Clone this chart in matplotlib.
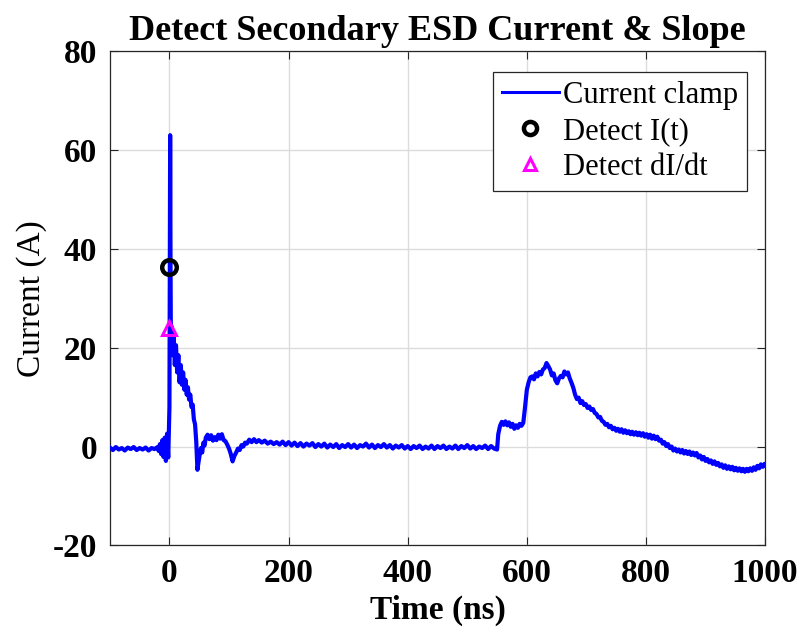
import numpy as np
import matplotlib
matplotlib.use("Agg")
import matplotlib.pyplot as plt

# ---- measured current clamp waveform (time in ns, current in A) ----
# pre-trigger baseline
t_pre = np.arange(-100, -19, 5)
i_pre = [-0.2, -0.7, -0.1, -0.6, -0.3, -0.8, -0.2, -0.5, -0.1, -0.7,
         -0.3, -0.6, -0.2, -0.8, -0.3, -0.5, -0.1]

# primary discharge and ringing
t_main = [-18, -16, -14, -12, -10, -8, -6, -4, -2, -1,
          0, 0.6, 1.2, 1.8, 2.4,
          3, 5, 7, 9, 11, 13, 15, 17, 19, 21, 23, 25, 27, 29, 31, 33, 35, 37, 39, 41, 43, 45,
          47, 49, 51, 53, 55, 57, 59, 61,
          64, 67, 70, 73, 76, 79, 82, 85, 88, 91, 94, 97, 100, 103, 106, 109, 112, 115, 118,
          121, 124, 127, 130,
          134, 138, 142, 146, 150,
          155, 160, 165, 170, 175, 180]
i_main = [-0.9, 0.5, -1.5, 1.3, -2.1, 1.8, -2.9, 2.6, -2.2, 3.0,
          8.0, 38.0, 63.0, 38.0, 21.0,
          24.5, 18.5, 23.0, 16.5, 20.5, 15.0, 18.5, 13.0, 16.5, 12.5, 15.0, 11.5, 13.5, 10.5,
          12.0, 9.5, 10.5, 8.0, 8.5, 5.5, 4.5, 1.0,
          -4.7, -3.0, -1.5, -0.3, -1.2, 0.8, 0.2, 1.8,
          2.4, 1.5, 2.3, 1.2, 1.9, 1.3, 2.4, 1.6, 2.5, 1.3, 1.1, 0.4, -0.4, -1.5, -3.0, -1.9,
          -1.2, -0.4, -0.7, 0.3, 0.0, 0.8, 0.6,
          1.4, 0.9, 1.5, 0.9, 1.3,
          0.8, 1.2, 0.6, 1.0, 0.5, 0.9]

# quiet interval between discharges
t_quiet = np.arange(185, 551, 5)
i_quiet = [0.4, 1.0, 0.3, 0.9, 0.2, 0.8, 0.1, 0.7, 0.0, 0.6,
           0.2, 0.7, -0.1, 0.5, 0.0, 0.6, -0.2, 0.4, -0.1, 0.5,
           -0.3, 0.3, -0.1, 0.5, -0.2, 0.4, -0.3, 0.3, 0.0, 0.6,
           -0.2, 0.4, -0.3, 0.3, -0.1, 0.5, -0.2, 0.3, -0.4, 0.2,
           -0.2, 0.3, -0.4, 0.1, -0.5, 0.1, -0.3, 0.2, -0.5, 0.0,
           -0.4, 0.2, -0.5, 0.1, -0.3, 0.2, -0.5, 0.0, -0.4, 0.2,
           -0.5, 0.1, -0.3, 0.3, -0.4, 0.1, -0.5, 0.0, -0.3, 0.2,
           -0.5, 0.1, -0.4, -0.6]

# secondary discharge
t_sec = np.append(np.arange(552, 1000, 3), 1000)
i_sec = [2.5, 4.2, 5.0, 4.4, 5.1, 4.3, 4.9, 4.0, 4.6, 3.6,
         4.3, 3.8, 4.6, 4.2, 4.8, 8.0, 11.5, 13.0, 14.0, 14.2,
         13.6, 14.8, 14.2, 15.1, 14.6, 15.6, 15.9, 16.9, 16.3, 15.6,
         14.4, 14.8, 13.4, 12.8, 13.8, 14.3, 14.0, 15.2, 14.6, 15.0,
         13.8, 12.9, 11.9, 10.5, 9.6, 9.9, 8.8, 9.2, 8.4, 8.6,
         7.8, 8.1, 7.4, 7.6, 6.8, 6.6, 5.9, 6.0, 5.2, 5.0,
         4.4, 4.6, 3.9, 4.2, 3.5, 3.8, 3.2, 3.6, 3.0, 3.5,
         2.8, 3.3, 2.7, 3.1, 2.5, 3.0, 2.4, 2.9, 2.3, 2.8,
         2.2, 2.7, 2.0, 2.5, 1.8, 2.4, 1.6, 2.2, 1.5, 2.0,
         1.2, 1.4, 0.6, 0.9, 0.1, 0.5, -0.3, 0.0, -0.8, -0.4,
         -1.0, -0.6, -1.2, -0.7, -1.4, -0.9, -1.5, -1.0, -1.7, -1.2,
         -1.8, -1.3, -2.2, -1.8, -2.6, -2.1, -2.9, -2.5, -3.2, -2.8,
         -3.5, -3.0, -3.7, -3.3, -4.0, -3.6, -4.3, -3.8, -4.5, -4.0,
         -4.6, -4.1, -4.8, -4.3, -4.9, -4.4, -5.0, -4.5, -5.1, -4.5,
         -5.0, -4.4, -4.9, -4.2, -4.7, -3.9, -4.4, -3.6, -4.1, -3.5,
         -3.8]

# detection points
detect_i_t = [0.0]
detect_i_val = [36.4]
detect_didt_t = [0.0]
detect_didt_val = [23.9]

x_ticks = [0, 200, 400, 600, 800, 1000]
y_ticks = [-20, 0, 20, 40, 60, 80]

time_ns = np.concatenate([t_pre, t_main, t_quiet, t_sec])
current_a = np.concatenate([i_pre, i_main, i_quiet, i_sec])

plt.rcParams["font.family"] = ["Liberation Serif", "DejaVu Serif"]
plt.rcParams["axes.unicode_minus"] = False

fig = plt.figure(figsize=(8.02, 6.32), dpi=100)
ax = fig.add_axes([0.137, 0.137, 0.817, 0.782])

ax.plot(time_ns, current_a, color=(0, 0, 1), lw=3.0, label="Current clamp", zorder=3)
ax.plot(detect_i_t, detect_i_val, "o", ms=10.5, mfc="none", mec="black", mew=3.2,
        label="Detect I(t)", zorder=4)
ax.plot(detect_didt_t, detect_didt_val, "^", ms=10, mfc="none", mec=(1, 0, 1), mew=2.2,
        label="Detect dI/dt", zorder=4)

ax.set_xlim(-100, 1000)
ax.set_ylim(-20, 80)
ax.set_xticks(x_ticks)
ax.set_yticks(y_ticks)
ax.grid(True, color="#dcdcdc", lw=1.0)
ax.set_axisbelow(True)
ax.tick_params(direction="in", top=True, right=True, length=6, width=0.8,
               color="#262626", labelsize=24, pad=9)
for lab in ax.get_xticklabels() + ax.get_yticklabels():
    lab.set_fontweight("bold")
for sp in ax.spines.values():
    sp.set_color("#262626")
    sp.set_linewidth(0.9)

ax.set_title("Detect Secondary ESD Current & Slope", fontsize=26, fontweight="bold", pad=8)
ax.set_xlabel("Time (ns)", fontsize=24, fontweight="bold", labelpad=4)
ax.set_ylabel("Current (A)", fontsize=24, labelpad=4)

leg = ax.legend(loc="upper right", bbox_to_anchor=(0.973, 0.958), fontsize=22,
                frameon=True, fancybox=False, framealpha=1, edgecolor="#262626",
                handlelength=1.85, handletextpad=0.15, borderpad=0.3, labelspacing=0.22,
                borderaxespad=0, markerscale=0.9)
leg.get_frame().set_linewidth(0.9)
leg.get_lines()[0].set_linewidth(2.2)

fig.savefig("out.png", dpi=100)
